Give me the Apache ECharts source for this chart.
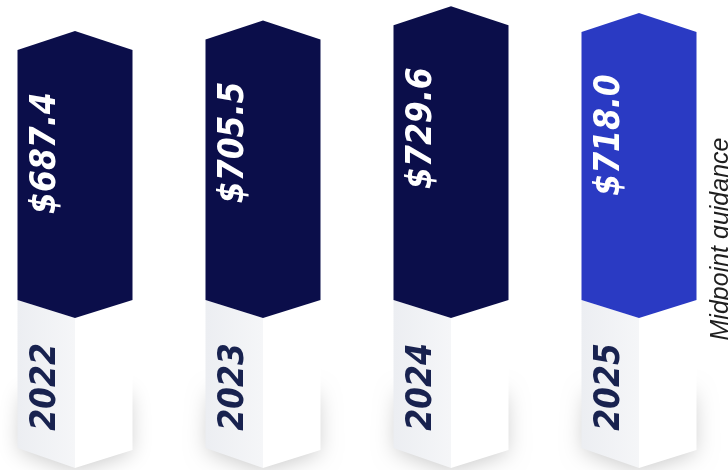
<!DOCTYPE html>
<html>
<head>
<meta charset="utf-8">
<script src="https://cdn.jsdelivr.net/npm/echarts@6/dist/echarts.min.js"></script>
<style>
html,body{margin:0;padding:0;background:#ffffff;}
#chart{width:728px;height:470px;}
</style>
</head>
<body>
<div id="chart"></div>
<script>
// ---- data ----
const years = ['2022', '2023', '2024', '2025'];
const revenue = [687.4, 705.5, 729.6, 718.0];
const guidanceYear = '2025';
const guidanceNote = 'Midpoint guidance';

// ---- styling ----
const AXIS_MIN = 233, AXIS_MAX = 740;
const DARK = '#0b0e4a';
const GUIDE = '#2a3ac3';
const YEAR_COLOR = '#18224f';
const LABEL_FONT = 'italic bold 35px "DejaVu Sans Condensed", "DejaVu Sans"';

const chart = echarts.init(document.getElementById('chart'), null, {renderer: 'canvas'});

function renderItem(params, api) {
  const idx = api.value(0);
  const val = api.value(1);
  const top = api.coord([idx, val]);
  const base = api.coord([idx, AXIS_MIN]);
  const cx = top[0];
  const hw = 57.5;
  const sh = 19;
  const py = top[1];
  const by = base[1];
  const dip = 18;
  const isGuide = years[idx] === guidanceYear;
  const fill = isGuide ? GUIDE : DARK;
  const label = '$' + val.toFixed(1);
  return {
    type: 'group',
    children: [
      { // shadow under the white block
        type: 'polygon',
        shape: {points: [[cx - hw + 6, by + 90], [cx + hw - 4, by + 90], [cx + hw - 2, by + 148], [cx, by + 166], [cx - hw + 2, by + 146]]},
        style: {fill: '#ffffff', shadowBlur: 22, shadowColor: 'rgba(0,0,0,0.22)', shadowOffsetX: 0, shadowOffsetY: 4}
      },
      { // left face
        type: 'polygon',
        shape: {points: [[cx - hw, by], [cx, by + dip], [cx, by + 168], [cx - hw, by + 148]]},
        style: {fill: new echarts.graphic.LinearGradient(0, 0, 1, 0, [
          {offset: 0, color: '#eceef2'}, {offset: 1, color: '#f5f6f8'}
        ])}
      },
      { // right face
        type: 'polygon',
        shape: {points: [[cx, by + dip], [cx + hw, by], [cx + hw, by + 150], [cx, by + 168]]},
        style: {fill: '#ffffff'}
      },
      { // coloured column
        type: 'polygon',
        shape: {points: [[cx - hw, py + sh], [cx, py], [cx + hw, py + sh], [cx + hw, by], [cx, by + dip], [cx - hw, by]]},
        style: {fill: fill}
      },
      {
        type: 'text',
        x: cx - 29, y: py + 122, rotation: Math.PI / 2,
        style: {text: label, x: 0, y: 0, align: 'center', verticalAlign: 'middle',
          fill: '#ffffff', font: LABEL_FONT}
      },
      {
        type: 'text',
        x: cx - 29, y: by + 87, rotation: Math.PI / 2,
        style: {text: years[idx], x: 0, y: 0, align: 'center', verticalAlign: 'middle',
          fill: YEAR_COLOR, font: LABEL_FONT}
      }
    ]
  };
}

chart.setOption({
  animation: false,
  backgroundColor: '#ffffff',
  grid: {left: 75, right: 89, top: 0, bottom: 170},
  xAxis: {type: 'category', data: years, boundaryGap: false, show: false},
  yAxis: {type: 'value', min: AXIS_MIN, max: AXIS_MAX, show: false},
  series: [{
    type: 'custom',
    renderItem: renderItem,
    clip: false,
    data: years.map((y, i) => [i, revenue[i]])
  }],
  graphic: [{
    type: 'text',
    x: 721, y: 239, rotation: Math.PI / 2,
    style: {text: guidanceNote, x: 0, y: 0, align: 'center', verticalAlign: 'middle',
      fill: '#1e1e1e', font: 'italic 25px "Liberation Sans"'}
  }]
});
</script>
</body>
</html>
